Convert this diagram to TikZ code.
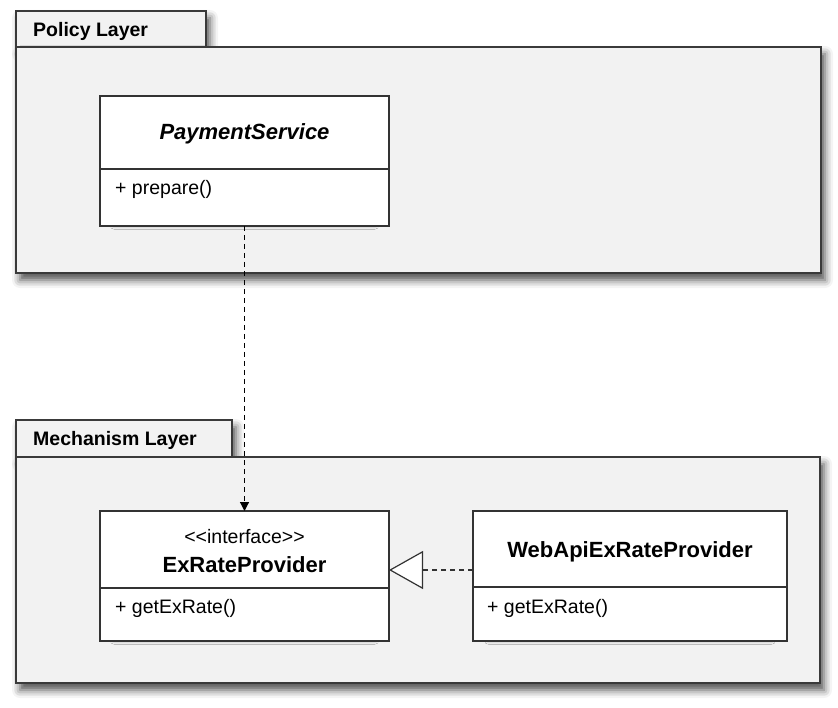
\documentclass[tikz,border=0pt]{standalone}
\usepackage{fontspec}
\setmainfont{Liberation Sans}
\usetikzlibrary{arrows.meta,shadows.blur}
\definecolor{pkgfill}{HTML}{F2F2F2}
\definecolor{edgecol}{HTML}{333333}
\definecolor{pkgedge}{HTML}{3A3A3A}
\tikzset{
  pkgpart/.style={draw=pkgedge, line width=1.6pt, fill=pkgfill, inner sep=0pt, outer sep=0pt,
    blur shadow={shadow xshift=4pt, shadow yshift=-7pt, shadow blur radius=8pt, shadow opacity=70}},
  classbox/.style={draw=edgecol, line width=1.3pt, fill=white, inner sep=0pt, outer sep=0pt,
    minimum height=130pt,
    blur shadow={shadow xshift=0pt, shadow yshift=-6pt, shadow blur radius=5pt, shadow opacity=45, shadow scale=0.9}},
  divider/.style={draw=edgecol, line width=1.3pt},
  pkglabel/.style={font=\fontsize{19.5}{22}\selectfont\bfseries, text=black, inner sep=0pt, anchor=base west},
  member/.style={font=\fontsize{19.5}{22}\selectfont, text=black, inner sep=0pt, anchor=base west},
  stereo/.style={font=\fontsize{19.5}{22}\selectfont, text=black, inner sep=0pt, anchor=base},
  classname/.style={font=\fontsize{22}{26}\selectfont\bfseries, text=black, inner sep=0pt, anchor=base},
  dep/.style={draw=black, line width=1.2pt, dash pattern=on 5pt off 4pt, -{Triangle[length=9pt,width=9pt]}},
  realize/.style={draw=edgecol, line width=1.2pt, dash pattern=on 5pt off 4pt,
    -{Triangle[open, length=34pt, width=38pt, fill=white, line width=1.2pt]}}
}
\begin{document}
\begin{tikzpicture}[x=1pt,y=-1pt]
\useasboundingbox (0,0) rectangle (838,708);

% Policy Layer package
\node[pkgpart, minimum width=190pt, minimum height=36pt] (poltab) at (111,29) {};
\node[pkgpart, minimum width=805pt, minimum height=226pt] (policy) at (418.5,160) {};
\node[pkglabel] (pollabel) at (33,37) {Policy Layer};

% Mechanism Layer package
\node[pkgpart, minimum width=216pt, minimum height=37pt] (mechtab) at (124,438.5) {};
\node[pkgpart, minimum width=804pt, minimum height=226pt] (mechanism) at (418,570) {};
\node[pkglabel] (mechlabel) at (33,446) {Mechanism Layer};

% PaymentService
\node[classbox, minimum width=289pt] (ps) at (244.5,161) {};
\draw[divider] (100,169) -- (389,169);
\node[classname, font=\fontsize{22}{26}\selectfont\bfseries\itshape] (psname) at (244.5,140) {PaymentService};
\node[member] (psm) at (115,195) {+ prepare()};

% ExRateProvider
\node[classbox, minimum width=289pt] (erp) at (244.5,576) {};
\draw[divider] (100,588) -- (389,588);
\node[stereo] (erpst) at (244.5,543) {<{}<interface>{}>};
\node[classname] (erpname) at (244.5,572) {ExRateProvider};
\node[member] (erpm) at (115,613) {+ getExRate()};

% WebApiExRateProvider
\node[classbox, minimum width=314pt] (web) at (630,576) {};
\draw[divider] (473,587) -- (787,587);
\node[classname] (webname) at (630,557) {WebApiExRateProvider};
\node[member] (webm) at (487,613) {+ getExRate()};

% connectors
\draw[dep] (ps.south) -- (erp.north);
\draw[realize] ([yshift=6pt]web.west) -- ([yshift=6pt]erp.east);
\end{tikzpicture}
\end{document}
